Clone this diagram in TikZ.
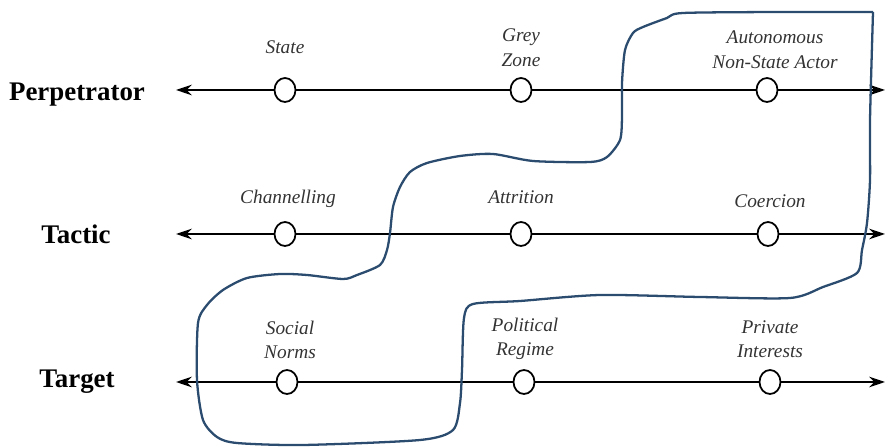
\documentclass[tikz,border=0pt]{standalone}
\usepackage{fontspec}
\setmainfont{Liberation Serif}
\usepackage{xcolor}
\usetikzlibrary{arrows.meta,shapes.geometric}

\definecolor{penblue}{HTML}{2B4C6F}

\tikzset{
    axis/.style={{Stealth[length=9pt,width=6pt]}-{Stealth[length=9pt,width=6pt]},line width=1.2pt},
    dot/.style={ellipse,draw,line width=1pt,fill=white,minimum width=0.42cm,minimum height=0.48cm,inner sep=0pt},
    rowlabel/.style={font=\fontsize{15.3}{17}\selectfont\bfseries},
    choice/.style={font=\fontsize{11}{14}\selectfont\itshape,align=center,text=black!80},
    sketch/.style={penblue,line width=1.3pt,line join=round}
}

\begin{document}
\begin{tikzpicture}[x=0.02cm,y=-0.02cm]

\useasboundingbox (0,0) rectangle (885,448);

% rows
\node[rowlabel] (perp) at (77,95) {Perpetrator};
\node[rowlabel] (tact) at (76,234) {Tactic};
\node[rowlabel] (targ) at (77,382) {Target};

\coordinate (perp_l) at (176,90);  \coordinate (perp_r) at (885,90);
\coordinate (tact_l) at (176,234); \coordinate (tact_r) at (885,234);
\coordinate (targ_l) at (176,382); \coordinate (targ_r) at (885,382);

\draw[axis] (perp_l) -- (perp_r);
\draw[axis] (tact_l) -- (tact_r);
\draw[axis] (targ_l) -- (targ_r);

% points on the scales
\node[dot] (state) at (285,90) {};
\node[dot] (grey)  at (521,90) {};
\node[dot] (auto)  at (767,90) {};
\node[dot] (chan)  at (285,234) {};
\node[dot] (attr)  at (521,234) {};
\node[dot] (coer)  at (768,234) {};
\node[dot] (norm)  at (287,382) {};
\node[dot] (regi)  at (524,382) {};
\node[dot] (priv)  at (770,382) {};

\node[choice] (state_t) at (285,47) {State};
\node[choice] (grey_t)  at (521,48) {Grey\\Zone};
\node[choice] (auto_t)  at (775,50) {Autonomous\\Non-State Actor};
\node[choice] (chan_t)  at (288,199) {Channelling};
\node[choice] (attr_t)  at (521,197) {Attrition};
\node[choice] (coer_t)  at (770,201) {Coercion};
\node[choice] (norm_t)  at (290,340) {Social\\Norms};
\node[choice] (regi_t)  at (525,339) {Political\\Regime};
\node[choice] (priv_t)  at (770,339) {Private\\Interests};

% hand drawn outline
\draw[sketch] plot[smooth,tension=0.45] coordinates {
    (873,12) (870,120) (870,180) (867,223) (862,250) (857,273) (823,287)
    (790,298) (700,297) (600,295) (520,301) (473,304) (464,318) (462,370)
    (460,403) (453,430) (420,440) (303,445) (237,443) (217,437) (203,420)
    (197,380) (198,323) (207,305) (223,290) (247,278) (280,274) (307,275)
    (343,279) (357,275) (380,265) (387,250) (390,233) (393,207) (400,187)
    (410,172) (427,163) (460,156) (493,154) (533,161) (590,162) (607,157)
    (620,140) (622,117) (622,83) (625,50) (633,33) (643,27) (667,18)
    (683,13) (780,12) (873,12)};

\end{tikzpicture}
\end{document}
